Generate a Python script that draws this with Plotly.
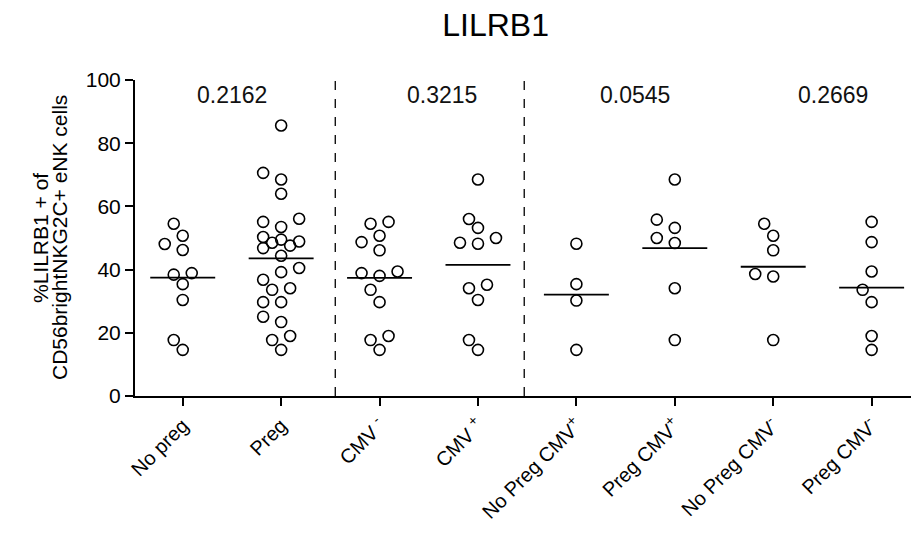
import plotly.graph_objects as go

# Group labels (tick text) and per-donor percentages
categories = ["No preg", "Preg", "CMV <sup>-</sup>", "CMV <sup>+</sup>",
              "No Preg CMV<sup>+</sup>", "Preg CMV<sup>+</sup>",
              "No Preg CMV<sup>-</sup>", "Preg CMV<sup>-</sup>"]

no_preg = [48.1, 54.5, 50.7, 46.2, 38.4, 38.9, 35.4, 30.4, 17.7, 14.6]
preg = [85.6, 70.6, 68.5, 64.0, 56.1, 55.1, 53.5, 50.3, 48.9, 47.6, 49.5, 48.5, 46.8,
        44.4, 40.5, 39.2, 36.8, 33.6, 34.1, 29.7, 29.7, 25.1, 23.4, 19.0, 17.7, 14.6]
cmv_neg = [54.5, 55.1, 50.7, 48.7, 46.1, 39.4, 38.0, 38.9, 33.6, 29.7, 19.0, 17.7, 14.6]
cmv_pos = [68.5, 56.0, 53.2, 50.0, 48.5, 48.2, 34.1, 35.2, 30.4, 17.7, 14.6]
nopreg_cmv_pos = [48.2, 35.4, 30.2, 14.6]
preg_cmv_pos = [68.5, 55.8, 53.2, 50.0, 48.4, 34.1, 17.7]
nopreg_cmv_neg = [54.5, 50.7, 46.1, 38.6, 37.8, 17.7]
preg_cmv_neg = [55.1, 48.7, 39.4, 33.6, 29.7, 19.0, 14.6]

groups = [no_preg, preg, cmv_neg, cmv_pos,
          nopreg_cmv_pos, preg_cmv_pos, nopreg_cmv_neg, preg_cmv_neg]

# p-values for each comparison
p_values = ["0.2162", "0.3215", "0.0545", "0.2669"]

# ---- layout geometry ----
W, H = 911, 537
M_L, M_R, M_T, M_B = 135, 0, 80, 141
X_RANGE = [-0.485, 7.40]
Y_RANGE = [0, 100]
PLOT_W = W - M_L - M_R
px_per_x = PLOT_W / (X_RANGE[1] - X_RANGE[0])
px_per_y = (H - M_T - M_B) / (Y_RANGE[1] - Y_RANGE[0])


def swarm(values, step_px=9.0, min_dist_px=12.5, max_cols=2):
    """Compact beeswarm: points go into a few fixed columns around the centre;
    when no column is free, the least-crowded one is used."""
    order = sorted(range(len(values)), key=lambda i: values[i])
    placed = []
    offs = [0.0] * len(values)
    cands = [0]
    for k in range(1, max_cols + 1):
        cands += [-k, k]
    for i in order:
        vy = values[i] * px_per_y
        best, best_d = 0, -1.0
        for c in cands:
            cx = c * step_px
            d = min([((cx - px) ** 2 + (vy - py) ** 2) ** 0.5 for px, py in placed]
                    or [1e9])
            if d >= min_dist_px:
                best = c
                break
            if d > best_d:
                best, best_d = c, d
        cx = best * step_px
        placed.append((cx, vy))
        offs[i] = cx / px_per_x
    return offs


fig = go.Figure()

for gi, vals in enumerate(groups):
    offs = swarm(vals)
    fig.add_trace(go.Scatter(
        x=[gi + o for o in offs], y=vals, mode="markers",
        marker=dict(symbol="circle-open", size=11, color="black",
                    line=dict(width=1.6, color="black")),
        showlegend=False, hoverinfo="y"))
    mean = sum(vals) / len(vals)
    fig.add_trace(go.Scatter(
        x=[gi - 0.33, gi + 0.33], y=[mean, mean], mode="lines",
        line=dict(color="black", width=1.8), showlegend=False,
        hoverinfo="skip"))

# dashed separators between comparison blocks
for xs in [1.55, 3.47]:
    fig.add_shape(type="line", xref="x", yref="y", x0=xs, x1=xs, y0=0, y1=100,
                  line=dict(color="black", width=1.3, dash="dash"))

font_family = "Arial, Liberation Sans, sans-serif"

# p-value annotations
for xp, txt in zip([0.5, 2.63, 4.6, 6.61], p_values):
    fig.add_annotation(x=xp, y=95.3, xref="x", yref="y", text=txt,
                       showarrow=False, font=dict(size=23, color="#111111"))

# two-line y-axis title, set tightly like the original
for x_px, line in [(40, "%LILRB1 + of"), (59, "CD56brightNKG2C+ eNK cells")]:
    fig.add_annotation(x=(x_px - M_L) / PLOT_W, y=0.5, xref="paper", yref="paper",
                       text=line, textangle=-90, showarrow=False,
                       xanchor="center", yanchor="middle",
                       font=dict(size=21, color="black"))

fig.update_layout(
    width=W, height=H,
    margin=dict(l=M_L, r=M_R, t=M_T, b=M_B),
    plot_bgcolor="white", paper_bgcolor="white",
    font=dict(family=font_family, color="black"),
    title=dict(text="LILRB1", x=0.544, xanchor="center", y=0.953, yanchor="middle",
               font=dict(size=32, color="black", family=font_family)),
    xaxis=dict(range=X_RANGE, tickmode="array", tickvals=list(range(8)),
               ticktext=categories, tickangle=-45, ticks="outside", ticklen=8,
               tickwidth=1.8, tickcolor="black", showline=True, linecolor="black",
               linewidth=2, showgrid=False, zeroline=False,
               tickfont=dict(size=20, color="black")),
    yaxis=dict(range=Y_RANGE, tickvals=[0, 20, 40, 60, 80, 100], ticks="outside",
               ticklen=8, tickwidth=1.8, tickcolor="black", showline=True,
               linecolor="black", linewidth=2, showgrid=False, zeroline=False,
               tickfont=dict(size=21, color="black")),
)

fig.write_html("out.html")
